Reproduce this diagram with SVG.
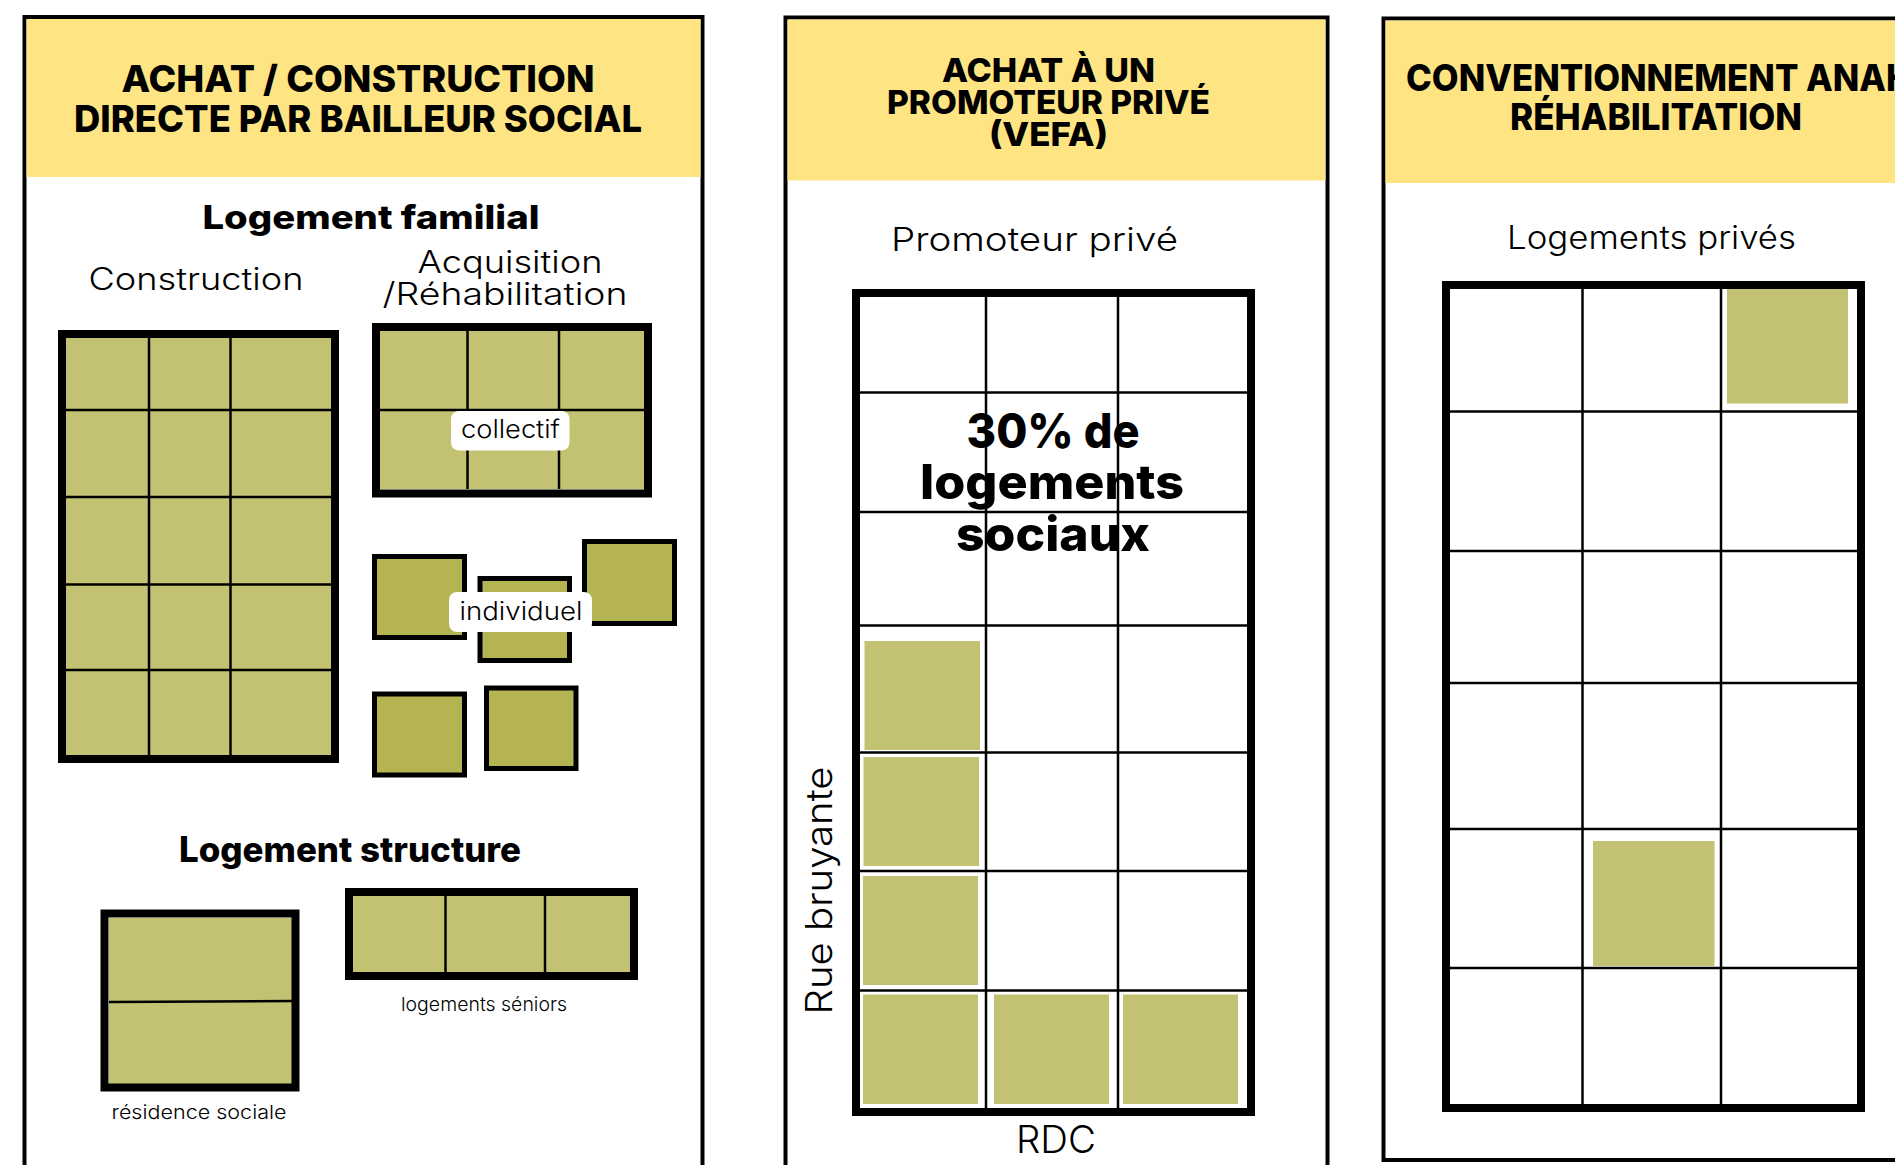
<svg xmlns="http://www.w3.org/2000/svg" width="1895" height="1165" viewBox="0 0 1895 1165">
<style>
.panel{fill:#FFFFFF;stroke:#000;stroke-width:4}
.head{fill:#FEE482}
.frame{fill:none;stroke:#000;stroke-width:8}
.fill1{fill:#C3C272}
.fill2{fill:#B4B453;stroke:#000;stroke-width:5}
.grid{stroke:#000;stroke-width:2.5;fill:none}
.h{font-family:Inter,'Open Sans','Liberation Sans',sans-serif;font-weight:800;fill:#000;text-anchor:middle}
.t{font-family:Inter,'Open Sans','Liberation Sans',sans-serif;font-weight:800;fill:#000;text-anchor:middle}
.l{font-family:Inter,Lato,'Open Sans','Liberation Sans',sans-serif;font-weight:300;fill:#000;text-anchor:middle}
.lab{fill:#FFFFFF}
</style>
<rect width="1895" height="1165" fill="#FFFFFF"/>

<g id="panel-bailleur">
  <rect class="panel" x="24.5" y="17" width="678" height="1180"/>
  <rect class="head" x="26.5" y="19" width="674" height="158"/>
  <text class="h" x="358" y="92" font-size="37" textLength="473" lengthAdjust="spacingAndGlyphs">ACHAT / CONSTRUCTION</text>
  <text class="h" x="358" y="132" font-size="37" textLength="568" lengthAdjust="spacingAndGlyphs">DIRECTE PAR BAILLEUR SOCIAL</text>
  <text class="t" x="371" y="229" font-size="33" textLength="337" lengthAdjust="spacingAndGlyphs">Logement familial</text>
  <text class="l" x="196" y="290" font-size="31" textLength="215" lengthAdjust="spacingAndGlyphs">Construction</text>
  <text class="l" x="510" y="273" font-size="31" textLength="185" lengthAdjust="spacingAndGlyphs">Acquisition</text>
  <text class="l" x="505" y="305" font-size="31" textLength="245" lengthAdjust="spacingAndGlyphs">/Réhabilitation</text>

  <g id="construction-box">
    <rect class="fill1" x="66" y="338" width="265" height="417"/>
    <line class="grid" x1="149" y1="338" x2="149" y2="755"/>
    <line class="grid" x1="230.5" y1="338" x2="230.5" y2="755"/>
    <line class="grid" x1="66" y1="410" x2="331" y2="410"/>
    <line class="grid" x1="66" y1="497" x2="331" y2="497"/>
    <line class="grid" x1="66" y1="584.5" x2="331" y2="584.5"/>
    <line class="grid" x1="66" y1="670" x2="331" y2="670"/>
    <rect class="frame" x="62" y="334" width="273" height="425"/>
  </g>

  <g id="collectif-box">
    <rect class="fill1" x="380" y="331" width="264" height="158"/>
    <line class="grid" x1="467.5" y1="331" x2="467.5" y2="489"/>
    <line class="grid" x1="559" y1="331" x2="559" y2="489"/>
    <line class="grid" x1="380" y1="410" x2="644" y2="410"/>
    <rect class="frame" x="376" y="327" width="272" height="166.5"/>
    <rect class="lab" x="451" y="411" width="118.5" height="39.5" rx="8"/>
    <text class="l" x="510.5" y="438" font-size="25" font-weight="400" textLength="99" lengthAdjust="spacingAndGlyphs">collectif</text>
  </g>

  <g id="individuel">
    <rect class="fill2" x="374.5" y="556.5" width="90" height="81"/>
    <rect class="fill2" x="480" y="578.5" width="89.5" height="82"/>
    <rect class="fill2" x="584.5" y="541.5" width="90" height="82"/>
    <rect class="fill2" x="374.5" y="694" width="90" height="81"/>
    <rect class="fill2" x="486.5" y="688" width="89.5" height="80.5"/>
    <rect class="lab" x="449" y="592" width="143" height="40" rx="8"/>
    <text class="l" x="521" y="620" font-size="25" font-weight="400" textLength="123" lengthAdjust="spacingAndGlyphs">individuel</text>
  </g>

  <text class="t" x="350" y="862" font-size="35" textLength="342" lengthAdjust="spacingAndGlyphs">Logement structure</text>

  <g id="residence-sociale">
    <rect class="fill1" x="109" y="918" width="183" height="167"/>
    <line class="grid" x1="109" y1="1002" x2="292" y2="1001"/>
    <rect class="frame" x="104.5" y="913.5" width="191" height="174" stroke-width="9"/>
    <text class="l" x="199" y="1119" font-size="19" font-weight="400" textLength="175" lengthAdjust="spacingAndGlyphs">résidence sociale</text>
  </g>

  <g id="logements-seniors">
    <rect class="fill1" x="353" y="896" width="277" height="76"/>
    <line class="grid" x1="445.5" y1="896" x2="445.5" y2="972"/>
    <line class="grid" x1="545" y1="888" x2="545" y2="972"/>
    <rect class="frame" x="349" y="892" width="285" height="84"/>
    <text class="l" x="484" y="1011" font-size="19" font-weight="400" textLength="166" lengthAdjust="spacingAndGlyphs">logements séniors</text>
  </g>
</g>

<g id="panel-vefa">
  <rect class="panel" x="785.5" y="17.5" width="542" height="1180"/>
  <rect class="head" x="787.5" y="19.5" width="538" height="161"/>
  <text class="h" x="1048.5" y="82" font-size="33" textLength="213" lengthAdjust="spacingAndGlyphs">ACHAT À UN</text>
  <text class="h" x="1048.5" y="114" font-size="33" textLength="323" lengthAdjust="spacingAndGlyphs">PROMOTEUR PRIVÉ</text>
  <text class="h" x="1048.5" y="146" font-size="33" textLength="119" lengthAdjust="spacingAndGlyphs">(VEFA)</text>
  <text class="l" x="1034.5" y="251" font-size="33" textLength="287" lengthAdjust="spacingAndGlyphs">Promoteur privé</text>

  <g id="vefa-grid">
    <rect class="fill1" x="864.5" y="641" width="115.5" height="109"/>
    <rect class="fill1" x="863.5" y="757" width="115.5" height="109"/>
    <rect class="fill1" x="863" y="876" width="115" height="109"/>
    <rect class="fill1" x="863" y="994.5" width="115" height="109.5"/>
    <rect class="fill1" x="994" y="994.5" width="115" height="109.5"/>
    <rect class="fill1" x="1123" y="994.5" width="115" height="109.5"/>
    <line class="grid" x1="986" y1="297" x2="986" y2="1109"/>
    <line class="grid" x1="1118" y1="297" x2="1118" y2="1109"/>
    <line class="grid" x1="860" y1="392.5" x2="1247" y2="392.5"/>
    <line class="grid" x1="860" y1="512" x2="1247" y2="512"/>
    <line class="grid" x1="860" y1="625.5" x2="1247" y2="625.5"/>
    <line class="grid" x1="860" y1="752.5" x2="1247" y2="752.5"/>
    <line class="grid" x1="860" y1="871" x2="1247" y2="871"/>
    <line class="grid" x1="860" y1="990.5" x2="1247" y2="990.5"/>
    <rect class="frame" x="856" y="293" width="395" height="819"/>
  </g>

  <text class="t" x="1053" y="448" font-size="48" textLength="173" lengthAdjust="spacingAndGlyphs">30% de</text>
  <text class="t" x="1052" y="499" font-size="48" textLength="264" lengthAdjust="spacingAndGlyphs">logements</text>
  <text class="t" x="1053" y="551" font-size="48" textLength="194" lengthAdjust="spacingAndGlyphs">sociaux</text>
  <text class="l" transform="translate(832 890.5) rotate(-90)" x="0" y="0" font-size="37" font-weight="400" textLength="248" lengthAdjust="spacingAndGlyphs">Rue bruyante</text>
  <text class="l" x="1056" y="1153" font-size="38" font-weight="400" textLength="80" lengthAdjust="spacingAndGlyphs">RDC</text>
</g>

<g id="panel-anah">
  <rect class="panel" x="1383.5" y="18.5" width="600" height="1141.5"/>
  <rect class="head" x="1385.5" y="20.5" width="600" height="162.5"/>
  <text class="h" x="1406" y="91" font-size="37" text-anchor="start" style="text-anchor:start" textLength="506" lengthAdjust="spacingAndGlyphs">CONVENTIONNEMENT ANAH</text>
  <text class="h" x="1656" y="130" font-size="37" textLength="292" lengthAdjust="spacingAndGlyphs">RÉHABILITATION</text>
  <text class="l" x="1651.5" y="249" font-size="32" textLength="289" lengthAdjust="spacingAndGlyphs">Logements privés</text>

  <g id="anah-grid">
    <rect class="fill1" x="1727" y="289" width="121" height="114.5"/>
    <rect class="fill1" x="1593" y="841" width="121.5" height="125"/>
    <line class="grid" x1="1582.5" y1="289" x2="1582.5" y2="1104"/>
    <line class="grid" x1="1721" y1="289" x2="1721" y2="1104"/>
    <line class="grid" x1="1450" y1="411.5" x2="1857" y2="411.5"/>
    <line class="grid" x1="1450" y1="551" x2="1857" y2="551"/>
    <line class="grid" x1="1450" y1="683" x2="1857" y2="683"/>
    <line class="grid" x1="1450" y1="829" x2="1857" y2="829"/>
    <line class="grid" x1="1450" y1="968" x2="1857" y2="968"/>
    <rect class="frame" x="1446" y="285" width="415" height="823"/>
  </g>
</g>
</svg>
